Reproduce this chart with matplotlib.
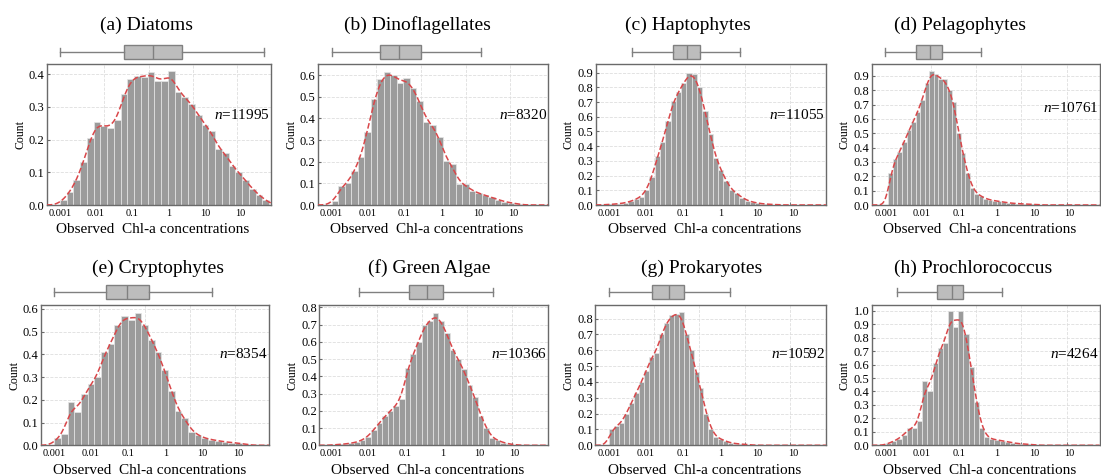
import numpy as np
import matplotlib.pyplot as plt

plt.rcParams['font.family'] = ['Liberation Serif', 'DejaVu Serif']
plt.rcParams['mathtext.fontset'] = 'custom'
plt.rcParams['mathtext.rm'] = 'Liberation Serif'
plt.rcParams['mathtext.it'] = 'Liberation Serif:italic'

# panel titles and sample sizes
titles = ['(a) Diatoms', '(b) Dinoflagellates', '(c) Haptophytes', '(d) Pelagophytes',
          '(e) Cryptophytes', '(f) Green Algae', '(g) Prokaryotes', '(h) Prochlorococcus']
n_obs = [11995, 8320, 11055, 10761, 8354, 10366, 10592, 4264]

# histogram bins (log10 of concentration)
bin_start = [-3.0, -3.0, -3.162, -2.94, -3.0, -3.0, -3.0, -2.99]
bin_width = [0.152, 0.146, 0.117, 0.1, 0.148, 0.125, 0.11, 0.114]

# bar heights (density)
h_diatoms = [0.015, 0.04, 0.075, 0.13, 0.205, 0.255, 0.24, 0.235, 0.26, 0.34,
             0.385, 0.395, 0.39, 0.405, 0.38, 0.38, 0.41, 0.345, 0.33, 0.31,
             0.275, 0.245, 0.225, 0.17, 0.16, 0.12, 0.1, 0.075, 0.05, 0.03, 0.015]
h_dino = [0.02, 0.09, 0.1, 0.155, 0.22, 0.335, 0.49, 0.58, 0.615, 0.6,
          0.565, 0.585, 0.54, 0.48, 0.385, 0.37, 0.315, 0.205, 0.19, 0.095,
          0.095, 0.065, 0.055, 0.045, 0.035, 0.025, 0.015, 0.01, 0.005]
h_hapto = [0.002, 0.004, 0.006, 0.01, 0.015, 0.025, 0.04, 0.055, 0.1, 0.19,
           0.33, 0.43, 0.57, 0.71, 0.77, 0.83, 0.9, 0.89, 0.8, 0.64,
           0.48, 0.32, 0.24, 0.165, 0.1, 0.08, 0.05, 0.03, 0.02, 0.012,
           0.008, 0.005, 0.003, 0.002]
h_pelago = [0.225, 0.32, 0.37, 0.44, 0.52, 0.58, 0.65, 0.73, 0.85, 0.93,
            0.91, 0.88, 0.875, 0.8, 0.72, 0.5, 0.36, 0.22, 0.12, 0.08,
            0.06, 0.045, 0.035, 0.03, 0.025, 0.02, 0.015, 0.012, 0.01, 0.008,
            0.006, 0.005, 0.004]
h_crypto = [0.03, 0.05, 0.19, 0.145, 0.225, 0.27, 0.3, 0.41, 0.445, 0.53,
            0.57, 0.55, 0.58, 0.53, 0.465, 0.41, 0.33, 0.24, 0.15, 0.12,
            0.06, 0.045, 0.03, 0.025, 0.02, 0.015, 0.012, 0.01, 0.005]
h_green = [0.003, 0.005, 0.008, 0.012, 0.018, 0.03, 0.05, 0.09, 0.13, 0.17,
           0.2, 0.23, 0.27, 0.45, 0.53, 0.6, 0.7, 0.72, 0.765, 0.72,
           0.65, 0.55, 0.5, 0.44, 0.35, 0.28, 0.17, 0.1, 0.04, 0.03,
           0.015, 0.008, 0.004]
h_prok = [0.1, 0.12, 0.14, 0.2, 0.27, 0.33, 0.4, 0.47, 0.56, 0.58,
          0.7, 0.77, 0.82, 0.83, 0.845, 0.7, 0.6, 0.46, 0.36, 0.2,
          0.1, 0.05, 0.04, 0.025, 0.015, 0.01, 0.008, 0.005, 0.003]
h_prochl = [0.015, 0.03, 0.05, 0.08, 0.13, 0.125, 0.18, 0.48, 0.4, 0.61,
            0.72, 0.76, 1.0, 0.88, 1.0, 0.83, 0.58, 0.32, 0.13, 0.06,
            0.045, 0.04, 0.035, 0.025, 0.02, 0.012, 0.01, 0.008, 0.005]
heights = [h_diatoms, h_dino, h_hapto, h_pelago, h_crypto, h_green, h_prok, h_prochl]

# box plot statistics (log10)
box_low = [-3.0, -2.99, -2.5, -3.01, -3.0, -2.39, -3.0, -2.74]
box_q1 = [-1.55, -1.92, -1.59, -2.32, -1.85, -1.27, -2.04, -1.875]
box_med = [-0.9, -1.49, -1.28, -2.02, -1.38, -0.87, -1.67, -1.54]
box_q3 = [-0.24, -1.0, -0.99, -1.75, -0.91, -0.53, -1.34, -1.29]
box_high = [1.59, 0.34, -0.1, -0.9, 0.48, 0.58, -0.33, -0.43]

# axis ranges
x_lo = [-3.3, -3.31, -3.3, -3.31, -3.3, -3.28, -3.31, -3.31]
x_hi = [1.75, 1.84, 1.8, 1.73, 1.75, 1.81, 1.8, 1.73]
y_hi = [0.43, 0.65, 0.957, 0.98, 0.618, 0.815, 0.888, 1.045]
y_tick_top = [0.4, 0.6, 0.9, 0.9, 0.6, 0.8, 0.8, 1.0]

tick_labels = ['0.001', '0.01', '0.1', '1', '10', '10']
tick_pos = [-3.0, -2.2, -1.37, -0.54, 0.28, 1.07]
grid_pos = [-3, -2, -1, 0, 1]

W, H = 1101, 476
fig = plt.figure(figsize=(W / 100, H / 100), dpi=100)

# pixel layout of histogram panels: left, right, top, bottom
lefts = [46.7, 317.7, 595.7, 871.7, 40.7, 319, 595, 871.7]
rights = [270.7, 548, 826, 1099.5, 269, 548, 826, 1099.5]
row_top = [64.3, 304.7]
row_bot = [205, 445.3]
title_x = [146.5, 417, 688, 960, 158.3, 429.5, 701.5, 973]
title_y = [25, 268]
n_y = [0.64, 0.64, 0.64, 0.69, 0.65, 0.65, 0.65, 0.65]

bar_color = '#9b9b9b'
spine_color = '#6a6a6a'
grid_kw = dict(color='#dedede', linestyle='--', linewidth=0.6)


def fig_rect(l, r, t, b):
    return [l / W, 1 - b / H, (r - l) / W, (b - t) / H]


for i in range(8):
    row = i // 4
    l, r = lefts[i], rights[i]
    t, b = row_top[row], row_bot[row]

    # histogram + kde
    ax = fig.add_axes(fig_rect(l, r, t, b))
    h = np.array(heights[i])
    w = bin_width[i]
    edges = bin_start[i] + w * np.arange(len(h))
    ax.bar(edges, h, width=w, align='edge', color=bar_color,
           edgecolor='#e6e6e6', linewidth=0.5, zorder=2)

    centers = edges + w / 2
    xs = np.linspace(x_lo[i], x_hi[i], 500)
    s = 0.85 * w
    kde = (h * w)[None, :] * np.exp(-0.5 * ((xs[:, None] - centers[None, :]) / s) ** 2)
    kde = kde.sum(axis=1) / (s * np.sqrt(2 * np.pi))
    ax.plot(xs, kde, color='#d9474a', linestyle='--', linewidth=1.1, zorder=3)

    ax.set_xlim(x_lo[i], x_hi[i])
    ax.set_ylim(0, y_hi[i])
    ax.set_xticks(tick_pos)
    ax.set_xticklabels(tick_labels)
    ax.set_xticks(grid_pos, minor=True)
    yt = np.round(np.arange(0, y_tick_top[i] + 0.001, 0.1), 1)
    ax.set_yticks(yt)
    ax.set_yticklabels(['%.1f' % v for v in yt])
    ax.tick_params(axis='x', which='major', length=0, pad=3, labelsize=7.5)
    ax.tick_params(axis='x', which='minor', direction='in', length=2.5,
                   color=spine_color)
    ax.tick_params(axis='y', direction='in', length=2.5, pad=1.5,
                   labelsize=9, color=spine_color)
    ax.grid(True, axis='x', which='minor', zorder=0, **grid_kw)
    ax.grid(True, axis='y', which='major', zorder=0, **grid_kw)
    ax.set_axisbelow(True)
    for sp in ax.spines.values():
        sp.set_color(spine_color)
        sp.set_linewidth(1.0)

    ax.set_ylabel('Count', fontsize=8.5, labelpad=2)
    ax.set_xlabel('Observed  Chl-a concentrations', fontsize=11)
    ax.xaxis.set_label_coords(0.475, -0.13)
    ax.text(0.995, n_y[i], '$n$=%d' % n_obs[i], transform=ax.transAxes,
            ha='right', va='center', fontsize=11, zorder=5)

    # box plot strip above
    bx = fig.add_axes(fig_rect(l, r, t - 23.5, t - 1.5))
    stats = [dict(whislo=box_low[i], q1=box_q1[i], med=box_med[i],
                  q3=box_q3[i], whishi=box_high[i], fliers=[])]
    bx.bxp(stats, vert=False, widths=0.62, capwidths=0.36, patch_artist=True,
           showfliers=False,
           boxprops=dict(facecolor='#bdbdbd', edgecolor='#808080', linewidth=1),
           medianprops=dict(color='#808080', linewidth=1),
           whiskerprops=dict(color='#808080', linewidth=1),
           capprops=dict(color='#808080', linewidth=1))
    bx.set_xlim(x_lo[i], x_hi[i])
    bx.set_ylim(0.5, 1.5)
    bx.axis('off')

    fig.text(title_x[i] / W, 1 - title_y[row] / H, titles[i],
             ha='center', va='center', fontsize=14)

fig.savefig('out.png', dpi=100)
